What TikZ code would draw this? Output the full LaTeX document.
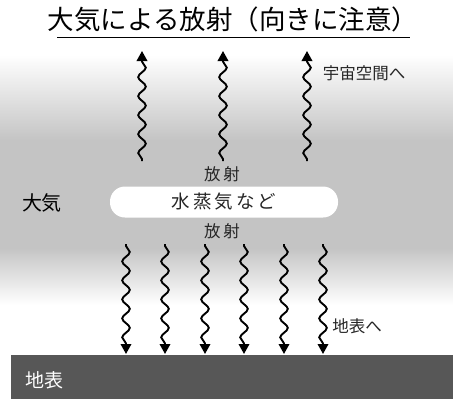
\documentclass[tikz,border=0pt]{standalone}
\usepackage{fontspec}
\setmainfont{Noto Sans CJK JP}
\usetikzlibrary{decorations.pathmorphing,arrows.meta}
\colorlet{airgrey}{black!23}
\colorlet{groundgrey}{black!66}
\begin{document}
\begin{tikzpicture}[x=1pt,y=-1pt,
  wave/.style={line width=1.9pt, decorate,
    decoration={snake, segment length=19pt, amplitude=3.8pt, pre length=2pt, post length=8pt},
    -{Triangle[length=10pt,width=10.5pt]}},
  label/.style={inner sep=0pt, font=\fontsize{16.5}{16.5}\selectfont, text=black!85}]
\useasboundingbox (0,0) rectangle (453,399);
\fill[white] (0,0) rectangle (453,399);
% atmosphere: light at the top, grey in the middle, fading toward the ground
\shade[top color=white, bottom color=airgrey] (0,55) rectangle (453,140);
\fill[airgrey] (0,140) rectangle (453,248);
\shade[top color=airgrey, bottom color=white] (0,248) rectangle (453,305);
% ground
\fill[groundgrey] (11,355) rectangle (453,399);
\node[inner sep=0pt, text=white, font=\fontsize{19}{19}\selectfont] (ground) at (44,380) {地表};

% title
\node[inner sep=0pt, font=\fontsize{26.5}{26.5}\selectfont] (title) at (233,19) {大気による放射（向きに注意）};
\draw[line width=1.3pt] (57,37.5) -- (410,37.5);

% water vapour band
\node[fill=white, rounded corners=15pt, minimum width=228pt, minimum height=31pt, inner sep=0pt] (band) at (224,202) {};
\node[inner sep=0pt, font=\fontsize{18.5}{18.5}\selectfont, text=black!85] (vapor) at (band) {水\,蒸\,気\,な\,ど};
\node[label] (emitup) at (222,174) {放\,射};
\node[label] (emitdn) at (222,231) {放\,射};
\node[inner sep=0pt, font=\fontsize{20}{20}\selectfont] (air) at (42,203) {大気};
\node[label] (space) at (364,73) {宇宙空間へ};
\node[label] (surf) at (357,326) {地表へ};

% upward radiation to space
\foreach \i/\x in {1/142,2/223,3/307}{
  \coordinate (us\i) at (\x,161);
  \coordinate (ue\i) at (\x,51);
  \draw[wave] (us\i) -- (ue\i);
}
% downward radiation to the surface
\foreach \i/\x in {1/126,2/165,3/205,4/244,5/284,6/323}{
  \coordinate (ds\i) at (\x,244);
  \coordinate (de\i) at (\x,354);
  \draw[wave] (ds\i) -- (de\i);
}
\end{tikzpicture}
\end{document}
